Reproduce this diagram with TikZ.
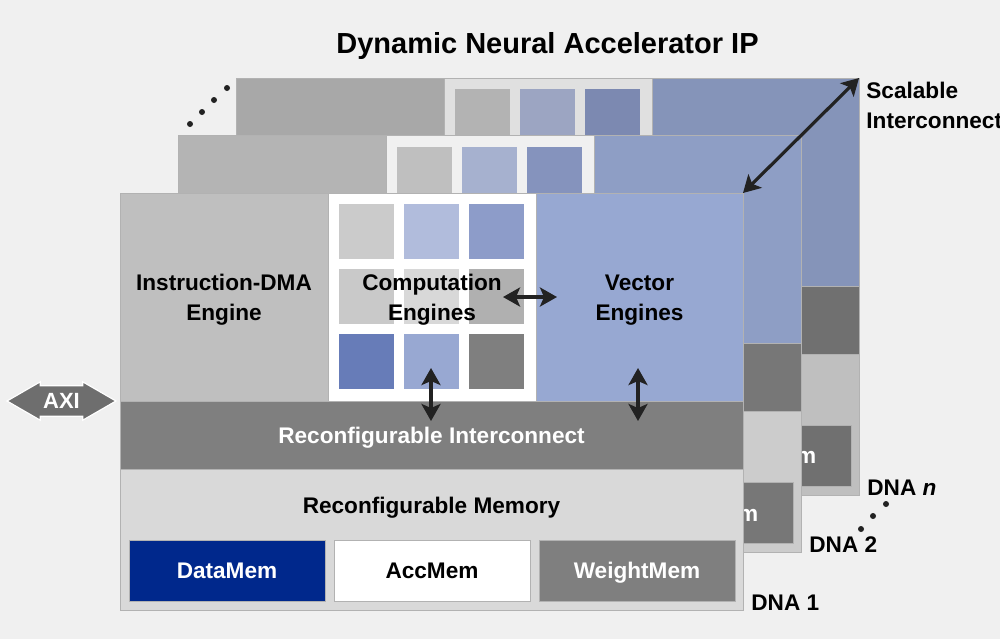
\documentclass[tikz,border=0pt]{standalone}
\usepackage{fontspec}
\setmainfont{Liberation Sans}
\usetikzlibrary{positioning,arrows.meta,shapes.arrows}
\definecolor{bgC}{HTML}{F0F0F0}
\definecolor{instC}{HTML}{BFBFBF}
\definecolor{vecC}{HTML}{97A8D2}
\definecolor{icC}{HTML}{7F7F7F}
\definecolor{memC}{HTML}{D9D9D9}
\definecolor{dataC}{HTML}{00288C}
\definecolor{arrC}{HTML}{222222}
\definecolor{axiC}{HTML}{6E6E6E}
\definecolor{sqA}{HTML}{CBCBCB}
\definecolor{sqB}{HTML}{B1BCDC}
\definecolor{sqC}{HTML}{8D9CC9}
\definecolor{sqD}{HTML}{C9C9C9}
\definecolor{sqE}{HTML}{D8D8D8}
\definecolor{sqF}{HTML}{B0B0B0}
\definecolor{sqG}{HTML}{677CB8}
\definecolor{sqH}{HTML}{98A8D2}
\definecolor{sqI}{HTML}{7F7F7F}

\begin{document}
\begin{tikzpicture}[x=0.5pt, y=-0.5pt, >={Stealth[length=8.5pt,width=9.5pt,inset=2pt]},
  every node/.style={font=\bfseries\fontsize{11.3}{15}\selectfont}]
\tikzset{
  blk/.style={draw=black!30, line width=0.4pt, inner sep=0pt, outer sep=0pt, align=center},
  lbl/.style={inner sep=0pt, align=center},
  conn/.style={<->, line width=1.6pt, draw=arrC}
}
\fill[bgC] (0,0) rectangle (1000,639);
\useasboundingbox (0,0) rectangle (1000,639);
\clip (0,0) rectangle (1000,639);
\node (title) [anchor=base, font=\bfseries\fontsize{14.5}{17}\selectfont] at (547.5,53) {Dynamic Neural Accelerator IP};
\foreach \i/\k/\dx/\dy/\nm in {3/88/116/-115/\textit{n}, 2/94/58/-57.5/2, 1/100/0/0/1} {
  \begin{scope}[shift={(\dx,\dy)}]
    \node (inst\i) [blk, fill=instC!\k!black, minimum width=104pt, minimum height=104pt] at (224,297) {};
    \node (comp\i) [blk, fill=white!\k!black, minimum width=104pt, minimum height=104pt] at (432,297) {};
    \foreach \r/\c/\cl in {0/0/sqA, 0/1/sqB, 0/2/sqC, 1/0/sqD, 1/1/sqE, 1/2/sqF, 2/0/sqG, 2/1/sqH, 2/2/sqI}
      \fill[\cl!\k!black] ({339+65*\c},{204+65*\r}) rectangle ++(55,55);
    \node (vec\i) [blk, fill=vecC!\k!black, minimum width=103.5pt, minimum height=104pt] at (639.5,297) {};
    \node (ic\i) [blk, fill=icC!\k!black, minimum width=311.5pt, minimum height=34pt] at (431.5,435) {};
    \node (mem\i) [blk, fill=memC!\k!black, minimum width=311.5pt, minimum height=70.5pt] at (431.5,539.5) {};
    \node (dm\i) [blk, fill=dataC!\k!black, minimum width=98pt, minimum height=30.5pt] at (227,570.5) {};
    \node (am\i) [blk, fill=white!\k!black, minimum width=98pt, minimum height=30.5pt] at (432,570.5) {};
    \node (wm\i) [blk, fill=icC!\k!black, minimum width=98pt, minimum height=30.5pt] at (637,570.5) {};
    \node (wml\i) [lbl, text=white, anchor=base] at ([yshift=-4pt]wm\i.center) {WeightMem};
    \node (dna\i) [lbl, anchor=base west] at ([xshift=4pt]mem\i.south east) {DNA \nm};
  \end{scope}
}
\node (il) [lbl, yshift=-1.5pt] at (inst1) {Instruction-DMA\\Engine};
\node (cl) [lbl, yshift=-1.5pt] at (comp1) {Computation\\Engines};
\node (vl) [lbl, yshift=-1.5pt] at (vec1) {Vector\\Engines};
\node (icl) [lbl, text=white, anchor=base] at ([yshift=-4pt]ic1.center) {Reconfigurable Interconnect};
\node (ml) [lbl, anchor=base] at ([yshift=-22pt]mem1.north) {Reconfigurable Memory};
\node (dml) [lbl, text=white, anchor=base] at ([yshift=-4pt]dm1.center) {DataMem};
\node (aml) [lbl, anchor=base] at ([yshift=-4pt]am1.center) {AccMem};
\coordinate (hA) at (503,297);
\coordinate (hB) at (557,297);
\coordinate (cA) at (431,368);
\coordinate (cB) at (431,421);
\coordinate (vA) at (638,368);
\coordinate (vB) at (638,421);
\draw[conn] (hA) -- (hB);
\draw[conn] (cA) -- (cB);
\draw[conn] (vA) -- (vB);
\draw[conn] (vec1.north east) -- (vec3.north east);
\node (scal) [lbl, align=left, anchor=west] at (866,105) {Scalable\\Interconnect};
\node (axi) [double arrow, fill=axiC, draw=white, line width=0.6pt, text=white,
  double arrow head extend=2pt, double arrow tip angle=60, minimum height=54.5pt,
  inner xsep=2pt, inner ysep=3.5pt, font=\bfseries\fontsize{11}{13}\selectfont] at (61.5,401) {AXI};
\foreach \p in {(190,124),(202,112),(214,100),(227,88),(861,529),(873,516),(886,504)}
  \fill[arrC] \p circle (1.5pt);
\end{tikzpicture}
\end{document}
